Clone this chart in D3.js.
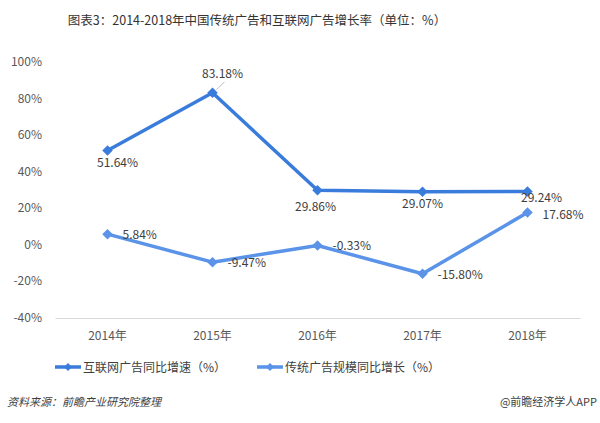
<!DOCTYPE html>
<html><head><meta charset="utf-8">
<script src="https://cdn.jsdelivr.net/npm/d3@7"></script>
<style>body{margin:0;background:#fff;}svg{display:block;}</style>
</head><body>
<svg id="c" width="600" height="423"></svg>
<script>
const years = ["2014年","2015年","2016年","2017年","2018年"];
const internet = [51.64, 83.18, 29.86, 29.07, 29.24];
const traditional = [5.84, -9.47, -0.33, -15.80, 17.68];
const yTicks = [-40, -20, 0, 20, 40, 60, 80, 100];
const seriesNames = ["互联网广告同比增速（%）", "传统广告规模同比增长（%）"];
const colors = ["#3a7cdb", "#5a93e8"];

const svg = d3.select("#c");
const font = "'Noto Sans CJK SC','Microsoft YaHei',sans-serif";
const x = d3.scaleBand().domain(years).range([55, 580]);
const y = d3.scaleLinear().domain([-40, 100]).range([318, 62]);

svg.append("text").attr("x", 257).attr("y", 25).attr("text-anchor", "middle")
  .style("font-family", font).style("font-size", "12.5px").attr("fill", "#333")
  .text("图表3：2014-2018年中国传统广告和互联网广告增长率（单位：%）");

// y axis labels
svg.append("g").selectAll("text").data(yTicks).join("text")
  .attr("x", 42).attr("y", d => y(d) + 4).attr("text-anchor", "end")
  .style("font-family", font).style("font-size", "12px").attr("fill", "#595959")
  .text(d => d + "%");

// x axis line
const xAxis = d3.axisBottom(x).tickSize(0).tickPadding(13);
const gx = svg.append("g").attr("transform", `translate(0,${y(-40)})`).call(xAxis);
gx.select(".domain").attr("stroke", "#d9d9d9");
gx.selectAll("text").style("font-family", font).style("font-size", "12px").attr("fill", "#595959");

const cx = d => x(d) + x.bandwidth() / 2;
const line = d3.line().x((d, i) => cx(years[i])).y(d => y(d));
const diamond = d3.symbol().type(d3.symbolDiamond2).size(70);

[internet, traditional].forEach((s, k) => {
  svg.append("path").datum(s).attr("d", line).attr("fill", "none")
    .attr("stroke", colors[k]).attr("stroke-width", 3.5).attr("stroke-linejoin", "round");
  svg.append("g").selectAll("path").data(s).join("path")
    .attr("transform", (d, i) => `translate(${cx(years[i])},${y(d)})`)
    .attr("d", diamond).attr("fill", colors[k]);
});

const lblStyle = sel => sel.style("font-family", font).style("font-size", "12px").attr("fill", "#404040");
// internet labels (offsets of label centre relative to point)
const offX = [10, 10, -2, 0, 14];
const offY = [17, -15, 21, 16, 11];
internet.forEach((v, i) => {
  const px = cx(years[i]), py = y(v);
  if (i === 1) {
    svg.append("line").attr("x1", px + 4).attr("y1", py - 3).attr("x2", px + 12).attr("y2", py - 11)
      .attr("stroke", "#bfbfbf").attr("stroke-width", 1);
  }
  svg.append("text").attr("x", px + offX[i]).attr("y", py + offY[i]).attr("text-anchor", "middle")
    .call(lblStyle).text(v.toFixed(2) + "%");
});
// traditional labels
traditional.forEach((v, i) => {
  const px = cx(years[i]), py = y(v);
  svg.append("text").attr("x", px + 15).attr("y", py + 5 + (i === 4 ? 1 : 0))
    .call(lblStyle).text(v.toFixed(2) + "%");
});

// legend
const lx = [55, 257];
seriesNames.forEach((n, k) => {
  const g = svg.append("g").attr("transform", `translate(${lx[k]},367)`);
  g.append("line").attr("x1", 0).attr("x2", 26).attr("stroke", colors[k]).attr("stroke-width", 3.5);
  g.append("path").attr("transform", "translate(13,0)").attr("d", d3.symbol().type(d3.symbolDiamond2).size(40)).attr("fill", colors[k]);
  g.append("text").attr("x", 28).attr("y", 5).style("font-family", font).style("font-size", "12px")
    .attr("fill", "#404040").text(n);
});

svg.append("text").attr("x", 7).attr("y", 406)
  .style("font-family", font).style("font-size", "11px").style("font-style", "italic").attr("fill", "#404040")
  .text("资料来源：前瞻产业研究院整理");
svg.append("text").attr("x", 597).attr("y", 406).attr("text-anchor", "end")
  .style("font-family", font).style("font-size", "11px").attr("fill", "#404040")
  .text("@前瞻经济学人APP");
</script>
</body></html>
